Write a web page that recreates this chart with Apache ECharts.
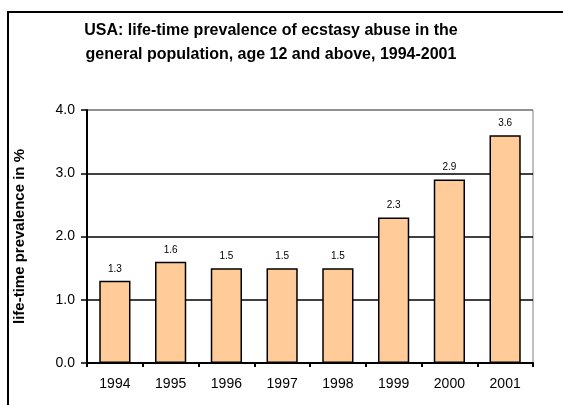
<!DOCTYPE html>
<html>
<head>
<meta charset="utf-8">
<script src="https://cdn.jsdelivr.net/npm/echarts@6/dist/echarts.min.js"></script>
<style>html,body{margin:0;padding:0;background:#fff;}#c{width:563px;height:405px;}</style>
</head>
<body>
<div id="c"></div>
<script>
var titleText = 'USA: life-time prevalence of ecstasy abuse in the\ngeneral population, age 12 and above, 1994-2001';
var yAxisTitle = 'life-time prevalence in %';
var years = ['1994', '1995', '1996', '1997', '1998', '1999', '2000', '2001'];
var prevalence = [1.3, 1.6, 1.5, 1.5, 1.5, 2.3, 2.9, 3.6];

var chart = echarts.init(document.getElementById('c'), null, {renderer: 'canvas'});
chart.setOption({
  animation: false,
  backgroundColor: '#fff',
  graphic: [{
    type: 'rect',
    shape: {x: 8, y: 12, width: 600, height: 500},
    style: {fill: 'none', stroke: '#000', lineWidth: 2},
    silent: true, z: 100
  }],
  title: {
    text: titleText,
    left: 266, textAlign: 'center', top: 14,
    textStyle: {fontFamily: 'Arial', fontWeight: 'bold', fontSize: 16, lineHeight: 24, color: '#000'}
  },
  grid: {left: 87, right: 30, top: 110, bottom: 42, show: true, borderColor: '#808080', borderWidth: 1, backgroundColor: 'transparent'},
  xAxis: {
    type: 'category', data: years,
    axisLine: {lineStyle: {color: '#000', width: 2}},
    axisTick: {show: true, length: 4, lineStyle: {color: '#000', width: 2}},
    axisLabel: {color: '#000', fontFamily: 'Arial', fontSize: 14, margin: 14}
  },
  yAxis: {
    type: 'value', min: 0, max: 4, interval: 1,
    name: yAxisTitle, nameLocation: 'middle', nameGap: 60, nameRotate: 90,
    nameTextStyle: {fontFamily: 'Arial', fontWeight: 'bold', fontSize: 15, color: '#000'},
    axisLine: {show: true, lineStyle: {color: '#000', width: 2}},
    axisTick: {show: true, length: 6, lineStyle: {color: '#000', width: 1.5}},
    axisLabel: {color: '#000', fontFamily: 'Arial', fontSize: 14, margin: 12, formatter: function (v) { return v.toFixed(1); }},
    splitLine: {show: true, lineStyle: {color: ['#000', '#000', '#000', '#000', '#808080'], width: 1.5}}
  },
  series: [{
    type: 'bar', data: prevalence,
    barCategoryGap: '44%',
    itemStyle: {color: '#FFCC99', borderColor: '#000', borderWidth: 1.5},
    label: {show: true, position: 'top', distance: 7, color: '#000', fontFamily: 'Arial', fontSize: 10,
      formatter: function (p) { return p.value.toFixed(1); }}
  }]
});
</script>
</body>
</html>
